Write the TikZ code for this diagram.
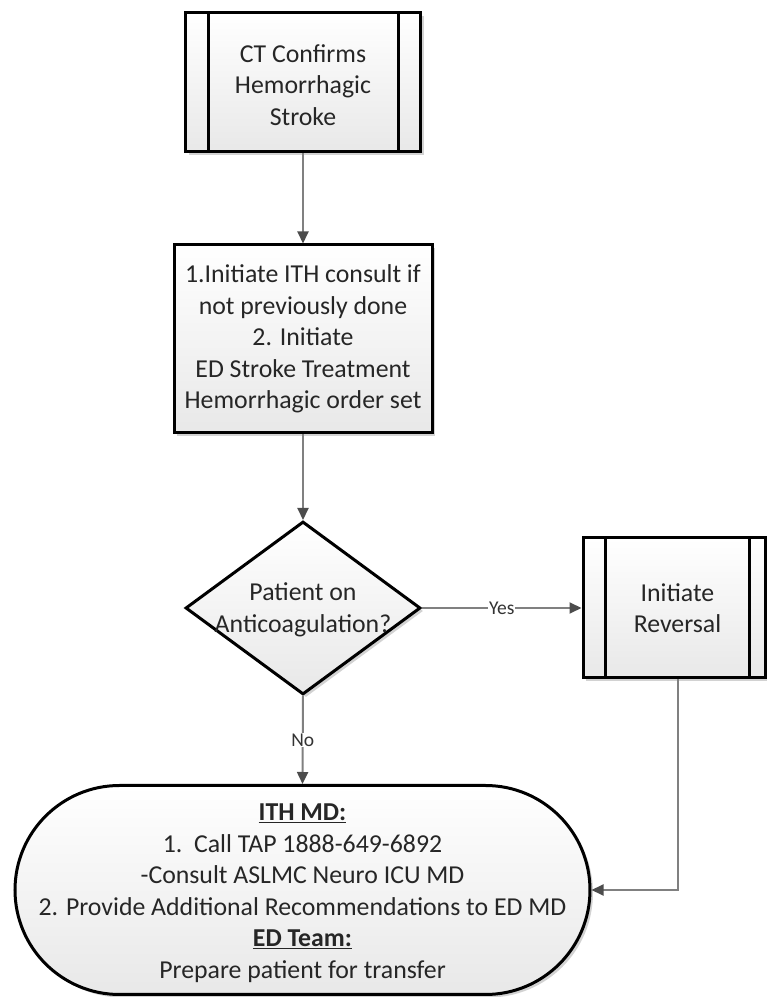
\documentclass[tikz,border=0pt]{standalone}
\usepackage{fontspec}
\setmainfont{Carlito}
\usetikzlibrary{arrows.meta,shapes.geometric,shapes.misc,shadows,calc}
\begin{document}
\begin{tikzpicture}[x=1pt,y=1pt,
  every node/.style={font=\fontsize{25.8}{31.5}\selectfont, align=center, inner sep=0pt},
  shp/.style={draw=black, line width=3pt, top color=white, bottom color=black!9,
    drop shadow={shadow xshift=3pt,shadow yshift=-3pt,fill=black!35,opacity=0.5}},
  txt/.style={text=black!85},
  innerline/.style={draw=black, line width=3pt},
  conn/.style={draw=black!50, line width=2pt, -{Triangle[length=12pt,width=11pt,color=black!70]}},
  lbl/.style={font=\fontsize{19.5}{22}\selectfont, fill=white, inner sep=1pt, text=black!80}
]
\useasboundingbox (0,0) rectangle (767,997);

% CT box
\node[shp, minimum width=235pt, minimum height=139pt] (b1) at (303,914.5) {};
\draw[innerline] ($(b1.north west)+(24,0)$) -- ($(b1.south west)+(24,0)$);
\draw[innerline] ($(b1.north east)+(-24,0)$) -- ($(b1.south east)+(-24,0)$);
\node[txt] (b1t) at (303,912) {CT Confirms\\Hemorrhagic\\Stroke};

% Initiate box
\node[shp, txt, minimum width=258pt, minimum height=188pt] (b2) at (303,658)
  {1.Initiate ITH consult if\\not previously done\\2. Initiate\\ED Stroke Treatment\\Hemorrhagic order set};

% Decision
\node[shp, diamond, minimum width=235pt, minimum height=173pt] (dia) at (303,389) {};
\node[txt] (diat) at (303,387) {Patient on\\Anticoagulation?};

% Reversal box
\node[shp, minimum width=182pt, minimum height=140pt] (rev) at (674,389) {};
\draw[innerline] ($(rev.north west)+(24,0)$) -- ($(rev.south west)+(24,0)$);
\draw[innerline] ($(rev.north east)+(-17,0)$) -- ($(rev.south east)+(-17,0)$);
\node[txt] (revt) at (677.5,389) {Initiate\\Reversal};

% Terminal
\node[shp, rounded rectangle, minimum width=575pt, minimum height=209pt] (term) at (302.5,107) {};
\node[txt] (termt) at (302.5,104) {\underline{\textbf{ITH MD:}}\\1.\ \ Call TAP 1888-649-6892\\-Consult ASLMC Neuro ICU MD\\2. Provide Additional Recommendations to ED MD\\\underline{\textbf{ED Team:}}\\Prepare patient for transfer};

% Connectors
\draw[conn] (b1.south) -- (b2.north);
\draw[conn] (b2.south) -- (dia.north);
\draw[conn] (dia.east) -- node[lbl] {Yes} (rev.west);
\draw[conn] (dia.south) -- node[lbl] {No} (term.north);
\draw[conn] (rev.south -| revt.center) |- (term.east);
\end{tikzpicture}
\end{document}
